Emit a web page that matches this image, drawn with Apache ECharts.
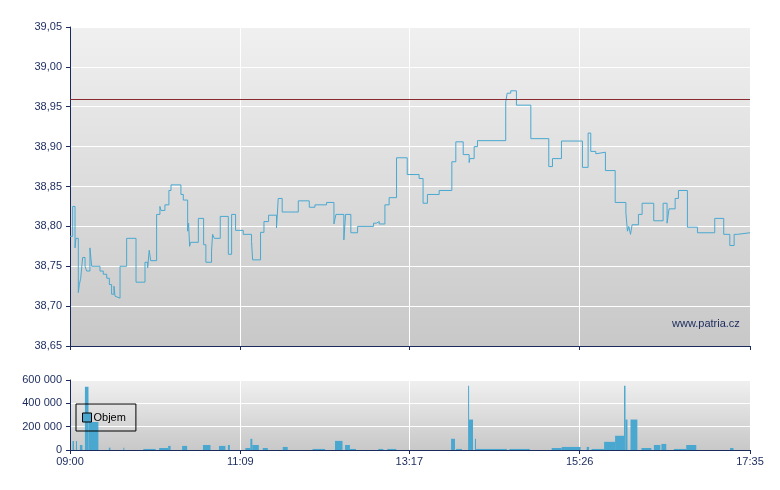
<!DOCTYPE html>
<html><head><meta charset="utf-8">
<script src="https://cdn.jsdelivr.net/npm/echarts@6/dist/echarts.min.js"></script>
<style>html,body{margin:0;padding:0;background:#fff}#c{width:780px;height:490px}</style>
</head><body><div id="c"></div>
<script>
// minutes since 09:00
const timeTicks = [0, 129, 257, 386, 515];
const priceTimes = [0,2.0,3.8,4.5,6.3,7.1,8.1,9.6,11.4,12.6,15.1,16.4,22.7,25.2,27.8,29.8,31.5,33.3,34.1,34.8,37.9,42.9,50.0,56.8,58.8,60.0,61.1,65.6,68.1,68.9,71.9,74.9,76.5,84.0,85.8,89.1,89.8,90.6,91.3,97.2,101.2,102.9,107.2,108.0,109.3,113.8,119.9,122.4,125.4,131.2,137.5,138.3,144.3,146.9,150.4,156.4,157.7,160.7,165.3,166.5,172.9,181.2,185.5,194.3,199.9,201.4,207.4,208.7,212.7,217.8,229.9,232.1,234.2,238.5,241.7,247.3,255.4,264.4,267.4,270.7,279.6,289.2,292.2,297.8,302.3,302.8,306.1,308.6,330.0,331.1,333.8,338.1,349.0,362.6,365.4,372.2,388.1,392.4,394.4,398.2,398.7,405.5,412.9,421.0,422.2,423.2,424.5,425.7,430.5,433.3,442.1,449.2,452.2,453.7,458.3,460.8,467.6,475.2,488.3,495.1,499.7,503.0,505.5,515];
const prices = [38.7875,38.825,38.773,38.785,38.717,38.727,38.735,38.761,38.75,38.744,38.773,38.75,38.744,38.74,38.735,38.727,38.715,38.725,38.7125,38.71,38.75,38.785,38.73,38.755,38.748,38.77,38.757,38.815,38.825,38.82,38.827,38.845,38.852,38.84,38.833,38.794,38.804,38.775,38.78,38.81,38.777,38.755,38.769,38.79,38.785,38.8125,38.765,38.815,38.795,38.79,38.781,38.758,38.7925,38.806,38.814,38.798,38.835,38.818,38.82,38.818,38.832,38.824,38.827,38.83,38.803,38.815,38.783,38.815,38.792,38.80,38.804,38.806,38.803,38.827,38.836,38.886,38.865,38.86,38.829,38.84,38.845,38.881,38.906,38.89,38.88,38.885,38.90,38.9075,38.956,38.967,38.97,38.952,38.91,38.875,38.885,38.907,38.874,38.917,38.894,38.891,38.893,38.87,38.83,38.817,38.794,38.80,38.79,38.802,38.815,38.829,38.807,38.829,38.804,38.822,38.835,38.845,38.799,38.792,38.81,38.79,38.776,38.79,38.792,38.792];
const refPrice = 38.96;
const volStart = [1.9,4.5,7.5,11.3,14.0,29.4,40.4,55.5,67.5,74.3,84.9,100.7,112.8,119.6,132.8,136.6,138.1,146.0,161.1,183.7,200.7,208.3,212.0,233.5,240.3,288.6,292.4,301.5,302.2,306.7,307.5,332.8,364.8,372.4,391.3,395.0,404.5,412.8,419.6,420.7,424.5,432.8,442.2,447.9,457.3,466.7,499.9];
const volEnd = [3.0,5.3,9.4,14.0,21.5,30.6,41.1,64.9,74.3,76.2,88.7,106.4,117.7,121.1,136.6,138.1,143.0,149.8,164.9,193.2,206.4,212.0,216.6,237.3,247.1,291.6,296.9,302.2,305.2,307.5,330.9,348.2,372.4,386.7,393.1,404.5,412.8,419.6,420.7,422.2,429.7,440.3,447.1,451.6,466.7,474.3,502.5];
const volumes = [78000,78000,43000,542000,240000,20000,20000,9000,17000,35000,35000,43000,35000,43000,17000,96000,43000,17000,26000,9000,78000,43000,9000,9000,9000,96000,9000,550000,261000,96000,9000,9000,17000,26000,26000,9000,70000,122000,550000,261000,261000,17000,43000,52000,9000,43000,17000];

const navy = '#1a2a5c';
const bg = {type:'linear',x:0,y:0,x2:0,y2:1,colorStops:[{offset:0,color:'#f0f0f0'},{offset:1,color:'#c8c8c8'}]};
const fmtTime = m => { const h = 9 + Math.floor(Math.round(m)/60), mm = Math.round(m)%60; return String(h).padStart(2,'0')+':'+String(mm).padStart(2,'0'); };
const fmtNum = v => String(v).replace(/\B(?=(\d{3})+(?!\d))/g,' ');
const lab = {color:navy,fontSize:11,fontFamily:'Liberation Sans'};

const chart = echarts.init(document.getElementById('c'), null, {renderer:'canvas'});
chart.setOption({
  animation:false,
  backgroundColor:'#fff',
  grid:[
    {left:70,right:30,top:27,height:319,show:true,backgroundColor:bg,borderWidth:0},
    {left:70,right:30,top:380,height:70,show:true,backgroundColor:bg,borderWidth:0}
  ],
  legend:{data:[{name:'Objem',icon:'rect',itemStyle:{color:'#4aa8d0',borderColor:'#000',borderWidth:1}}],left:76,top:404,orient:'vertical',
    borderColor:'#000',borderWidth:1,borderRadius:0,padding:[8,10,8,6],itemWidth:9,itemHeight:9,itemGap:2,textStyle:{color:'#000',fontSize:11,fontFamily:'Liberation Sans',padding:[0,0,0,-3]}},
  xAxis:[
    {type:'value',gridIndex:0,min:0,max:515,axisLine:{lineStyle:{color:navy}},
     axisTick:{customValues:timeTicks,length:4,lineStyle:{color:navy}},axisLabel:{show:false,customValues:timeTicks},
     splitLine:{show:true,lineStyle:{color:'#fff'}}},
    {type:'value',gridIndex:1,min:0,max:515,axisLine:{lineStyle:{color:navy}},
     axisTick:{customValues:timeTicks,length:4,lineStyle:{color:navy}},
     axisLabel:Object.assign({customValues:timeTicks,formatter:fmtTime,margin:6},lab),
     splitLine:{show:true,lineStyle:{color:'#fff'}}}
  ],
  yAxis:[
    {type:'value',gridIndex:0,min:38.65,max:39.05,interval:0.05,axisLine:{show:true,lineStyle:{color:navy}},axisTick:{show:true,length:4},
     axisLabel:Object.assign({formatter:v=>v.toFixed(2).replace('.',',')},lab),splitLine:{lineStyle:{color:'#fff'}}},
    {type:'value',gridIndex:1,min:0,max:600000,interval:200000,axisLine:{show:true,lineStyle:{color:navy}},axisTick:{show:true,length:4},
     axisLabel:Object.assign({formatter:fmtNum},lab),splitLine:{lineStyle:{color:'#fff'}}}
  ],
  series:[
    {type:'line',name:'Cena',xAxisIndex:0,yAxisIndex:0,step:'end',showSymbol:false,
     data:priceTimes.map((t,i)=>[t,prices[i]]),lineStyle:{color:'#4aa8d0',width:1},
     markLine:{symbol:'none',silent:true,label:{show:false},lineStyle:{color:'#8a2a30',width:1,type:'solid'},data:[{yAxis:refPrice}]}},
    {type:'custom',name:'Objem',xAxisIndex:1,yAxisIndex:1,
     data:volStart.map((s,i)=>[s,volEnd[i],volumes[i]]),
     encode:{x:[0,1],y:2},
     renderItem:(params,api)=>{
       const p0 = api.coord([api.value(0),api.value(2)]);
       const p1 = api.coord([api.value(1),0]);
       return {type:'rect',shape:{x:p0[0],y:p0[1],width:Math.max(1,p1[0]-p0[0]),height:p1[1]-p0[1]},style:{fill:'#4aa8d0'}};
     }}
  ],
  graphic:[{type:'text',left:672,top:318,style:{text:'www.patria.cz',fill:navy,font:'11px Liberation Sans'}}]
});
</script></body></html>
